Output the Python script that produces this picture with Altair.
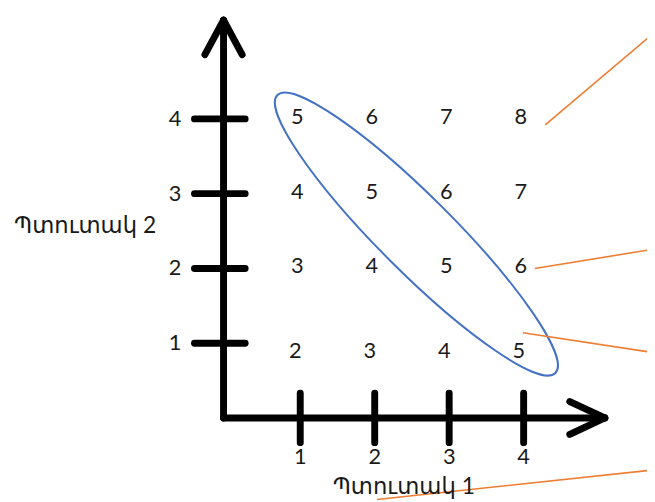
import altair as alt
import pandas as pd

# ---- data ----
faces = [1, 2, 3, 4]                       # tick values on both axes
grid_x = [1, 2, 3, 4] * 4
grid_y = [4] * 4 + [3] * 4 + [2] * 4 + [1] * 4
grid_sum = [5, 6, 7, 8,
            4, 5, 6, 7,
            3, 4, 5, 6,
            2, 3, 4, 5]
x_title = "Պտուտակ 1"
y_title = "Պտուտակ 2"

# callout (orange) lines, data coordinates: start -> end
call_x1 = [4.29, 4.15, 3.99, 2.03]
call_y1 = [3.92, 2.00, 1.14, -1.09]
call_x2 = [5.70, 5.70, 5.70, 5.70]
call_y2 = [5.11, 2.25, 0.88, -0.70]

# ---- geometry of the drawing ----
W, H = 647, 494
ox, oy, ux, uy = 228.5, 420.0, 75.4, 75.7      # page px of origin, px per unit
xdom = [(8 - ox) / ux, (8 + W - ox) / ux]
ydom = [(oy - (8 + H)) / uy, (oy - 8) / uy]
xs = alt.Scale(domain=xdom, nice=False, zero=False)
ys = alt.Scale(domain=ydom, nice=False, zero=False)

ax0 = -0.03
ytip, xtip = 5.32, 5.09
axis_rows = [
    dict(x=ax0, y=0, x2=ax0, y2=ytip),
    dict(x=ax0, y=0, x2=xtip, y2=0),
    dict(x=ax0, y=ytip, x2=ax0 - 0.25, y2=4.86),
    dict(x=ax0, y=ytip, x2=ax0 + 0.25, y2=4.86),
    dict(x=xtip, y=0, x2=4.62, y2=0.22),
    dict(x=xtip, y=0, x2=4.62, y2=-0.22),
]
for f in faces:
    axis_rows.append(dict(x=-0.42, y=f, x2=0.26, y2=f))
    axis_rows.append(dict(x=f, y=0.33, x2=f, y2=-0.33))
axis_df = pd.DataFrame(axis_rows)

call_df = pd.DataFrame(dict(x=call_x1, y=call_y1, x2=call_x2, y2=call_y2))
cells_df = pd.DataFrame(dict(x=grid_x, y=grid_y, s=grid_sum))
ylab_df = pd.DataFrame(dict(x=[-0.68] * 4, y=faces, t=[str(f) for f in faces]))
xlab_df = pd.DataFrame(dict(x=faces, y=[-0.53] * 4, t=[str(f) for f in faces]))
titles_df = pd.DataFrame(dict(x=[2.39, -1.89], y=[-0.92, 2.56], t=[x_title, y_title]))
ell_df = pd.DataFrame(dict(x=[2.56], y=[2.46]))

FONT = "Lato, DejaVu Sans, sans-serif"
TXT = "#1a1a1a"

def xy(extra=None):
    enc = dict(x=alt.X("x:Q", scale=xs, axis=None), y=alt.Y("y:Q", scale=ys, axis=None))
    if extra:
        enc.update(extra)
    return enc

axes = alt.Chart(axis_df).mark_rule(color="black", strokeWidth=7, strokeCap="round").encode(
    **xy(dict(x2="x2:Q", y2="y2:Q")))
callouts = alt.Chart(call_df).mark_rule(color="#ed7d31", strokeWidth=1.6).encode(
    **xy(dict(x2="x2:Q", y2="y2:Q")))

b, k = 0.19, 0.5523
kb = k * b
ell_path = (f"M -1 0 C -1 {-kb} {-k} {-b} 0 {-b} C {k} {-b} 1 {-kb} 1 0 "
            f"C 1 {kb} {k} {b} 0 {b} C {-k} {b} -1 {kb} -1 0 Z")
ellipse = alt.Chart(ell_df).mark_point(shape=ell_path, filled=False, size=398 ** 2,
                                       angle=45, stroke="#4472c4", strokeWidth=2,
                                       opacity=1).encode(**xy())

cells_top = alt.Chart(cells_df).transform_filter("datum.y > 1").mark_text(
    font=FONT, fontSize=22, color=TXT, dx=-3, dy=-2).encode(**xy(dict(text="s:Q")))
cells_bottom = alt.Chart(cells_df).transform_filter("datum.y == 1").mark_text(
    font=FONT, fontSize=22, color=TXT, dx=-5, dy=8).encode(**xy(dict(text="s:Q")))
ylabs = alt.Chart(ylab_df).mark_text(font=FONT, fontSize=22, color=TXT).encode(
    **xy(dict(text="t:N")))
xlabs = alt.Chart(xlab_df).mark_text(font=FONT, fontSize=22, color=TXT).encode(
    **xy(dict(text="t:N")))
titles = alt.Chart(titles_df).mark_text(font=FONT, fontSize=23, color=TXT).encode(
    **xy(dict(text="t:N")))

chart = alt.layer(ellipse, callouts, axes, cells_top, cells_bottom, ylabs, xlabs, titles).properties(
    width=W, height=H, autosize=alt.AutoSizeParams(type="none"), padding=0
).configure_view(stroke=None)

chart.save("out.html", embed_options={"renderer": "svg", "actions": False})
